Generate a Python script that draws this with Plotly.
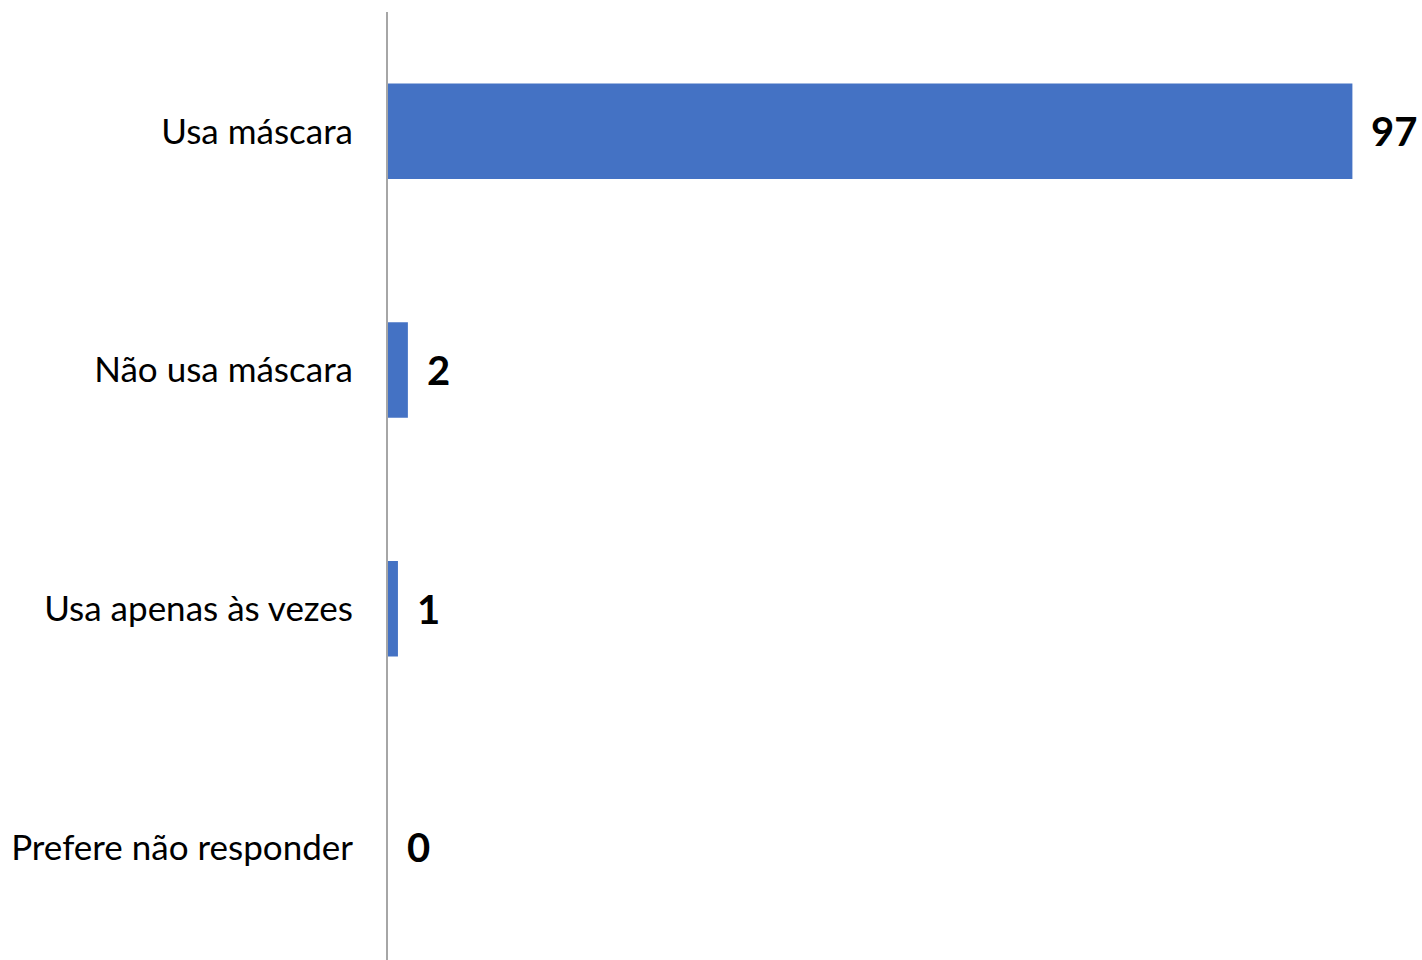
import plotly.graph_objects as go

categories = ["Usa máscara", "Não usa máscara", "Usa apenas às vezes", "Prefere não responder"]
values = [97, 2, 1, 0]
value_labels = ["97", "2", "1", "0"]

fig = go.Figure()
fig.add_trace(go.Bar(
    y=categories, x=values, orientation="h",
    marker=dict(color="#4472C4", line=dict(width=0)),
    hoverinfo="skip",
))

for c, v, t in zip(categories, values, value_labels):
    fig.add_annotation(x=v, y=c, text=t, showarrow=False, xanchor="left", yanchor="middle",
                       xshift=17, font=dict(family="Lato", size=40, color="#000000", weight="bold"))

fig.update_layout(
    width=1422, height=960,
    margin=dict(l=388, r=0, t=12, b=0, pad=0),
    plot_bgcolor="white", paper_bgcolor="white",
    bargap=0.6, showlegend=False,
    font=dict(family="Lato", size=35, color="#000000"),
    xaxis=dict(range=[0, 104], visible=False, showgrid=False, zeroline=False),
    yaxis=dict(
        categoryorder="array", categoryarray=categories,
        range=[3.472, -0.5],
        showline=True, linecolor="#A6A6A6", linewidth=2,
        showgrid=False, zeroline=False, ticks="",
        ticklabelstandoff=26,
        tickfont=dict(family="Lato", size=35, color="#000000"),
    ),
)

fig.write_html("out.html", config={"displayModeBar": False},
               post_script="document.body.style.margin='0';document.body.style.overflow='hidden';")
